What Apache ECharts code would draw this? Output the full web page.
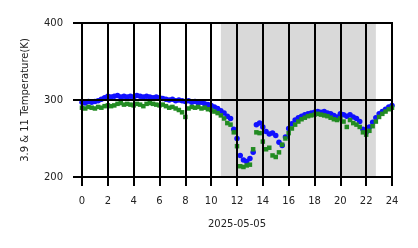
<!DOCTYPE html>
<html>
<head>
<meta charset="utf-8">
<script src="https://cdn.jsdelivr.net/npm/echarts@6/dist/echarts.min.js"></script>
<style>
html,body{margin:0;padding:0;background:#fff;}
#chart{width:418px;height:248px;}
</style>
</head>
<body>
<div id="chart"></div>
<script>
// Hours of the day (UTC) for each sample
var hours = [0,0.25,0.5,0.75,1,1.25,1.5,1.75,2,2.25,2.5,2.75,3,3.25,3.5,3.75,4,4.25,4.5,4.75,5,5.25,5.5,5.75,6,6.25,6.5,6.75,7,7.25,7.5,7.75,8,8.25,8.5,8.75,9,9.25,9.5,9.75,10,10.25,10.5,10.75,11,11.25,11.5,11.75,12,12.25,12.5,12.75,13,13.25,13.5,13.75,14,14.25,14.5,14.75,15,15.25,15.5,15.75,16,16.25,16.5,16.75,17,17.25,17.5,17.75,18,18.25,18.5,18.75,19,19.25,19.5,19.75,20,20.25,20.5,20.75,21,21.25,21.5,21.75,22,22.25,22.5,22.75,23,23.25,23.5,23.75,24];
// 3.9 um brightness temperature (K) - blue
var temp39 = [297,296,298,297,298,299,301,303,305,304,305,306,304,305,304,305,304,306,305,304,305,304,303,304,303,302,301,300,301,299,300,299,298,299,297,298,296,297,295,294,293,291,289,286,283,279,276,262,250,228,222,220,224,232,268,270,265,259,256,257,254,245,241,252,263,269,274,277,279,281,282,283,284,285,284,285,283,282,280,278,282,281,279,281,278,276,272,262,258,265,271,277,282,285,288,291,293];
// 11 um brightness temperature (K) - green
var temp11 = [290,289,291,290,289,291,290,292,293,292,293,295,296,294,295,294,293,295,294,292,295,296,295,294,293,294,292,290,291,289,287,284,278,289,291,290,291,289,290,288,287,285,283,280,276,270,268,258,240,214,213,215,216,236,258,257,246,236,238,228,226,232,242,250,257,263,268,272,275,277,279,280,281,282,281,280,279,277,275,274,276,272,265,274,270,268,265,258,255,260,266,272,278,282,285,288,290];
// Night (shaded) period in hours
var shadeStart = 10.75, shadeEnd = 22.75;
var xTicks = {min: 0, max: 24, step: 2};
var yTicks = {min: 200, max: 400, step: 100};
var xName = '2025-05-05';
var yName = '3.9 & 11 Temperature(K)';

function pairs(xs, ys){ return xs.map(function(x,i){ return [x, ys[i]]; }); }

var font = 'DejaVu Sans';
var chart = echarts.init(document.getElementById('chart'), null, {renderer:'canvas'});
chart.setOption({
  animation: false,
  backgroundColor: '#ffffff',
  grid: {left: 82, right: 26, top: 23, bottom: 71, show: true, borderColor: '#000', borderWidth: 2, backgroundColor: 'transparent', z: 10},
  xAxis: {
    type: 'value', min: xTicks.min, max: xTicks.max, interval: xTicks.step, z: 10,
    name: xName, nameLocation: 'middle', nameGap: 42,
    nameTextStyle: {fontFamily: font, fontSize: 10, color: '#222'},
    axisLine: {show: true, lineStyle: {color: '#000', width: 2}},
    axisTick: {show: true, inside: false, length: 9, lineStyle: {color: '#000', width: 2}},
    axisLabel: {fontFamily: font, fontSize: 10, color: '#222', margin: 19},
    splitLine: {show: true, lineStyle: {color: '#000', width: 2}}
  },
  yAxis: {
    type: 'value', min: yTicks.min, max: yTicks.max, interval: yTicks.step, z: 10,
    name: yName, nameLocation: 'middle', nameGap: 52, nameRotate: 90,
    nameTextStyle: {fontFamily: font, fontSize: 10, color: '#222'},
    axisLine: {show: true, lineStyle: {color: '#000', width: 2}},
    axisTick: {show: true, inside: false, length: 9, lineStyle: {color: '#000', width: 2}},
    axisLabel: {fontFamily: font, fontSize: 10, color: '#222', margin: 19},
    splitLine: {show: true, lineStyle: {color: '#000', width: 2}}
  },
  series: [
    {
      type: 'scatter', name: '3.9', z: 2,
      data: pairs(hours, temp39),
      symbol: 'circle', symbolSize: 5.5,
      itemStyle: {color: '#1010ff', opacity: 1},
      markArea: {
        silent: true,
        itemStyle: {color: '#d9d9d9', opacity: 1},
        data: [[{xAxis: shadeStart}, {xAxis: shadeEnd}]]
      }
    },
    {
      type: 'scatter', name: '11', z: 3,
      data: pairs(hours, temp11),
      symbol: 'rect', symbolSize: 4.5,
      itemStyle: {color: '#228b22', opacity: 1}
    }
  ]
});
</script>
</body>
</html>
